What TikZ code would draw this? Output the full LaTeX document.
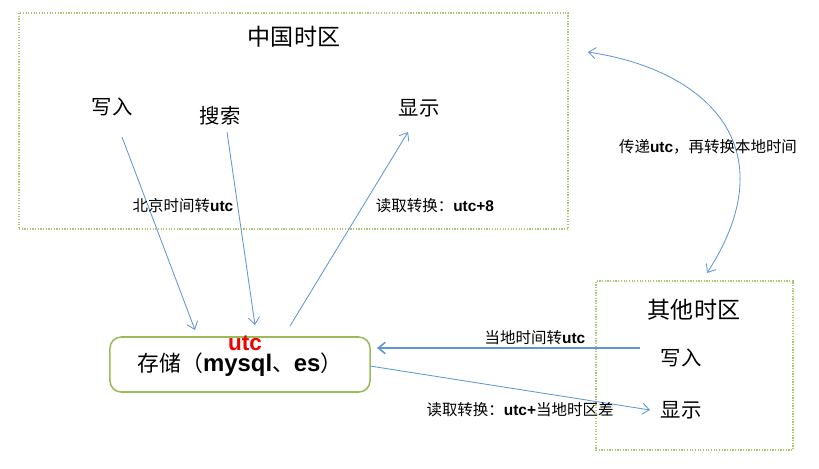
\documentclass[tikz,border=0pt]{standalone}
\usepackage{fontspec}
\setmainfont{Noto Sans CJK SC}
\newfontfamily\latinsans{Liberation Sans}
\usetikzlibrary{arrows.meta}
\newcommand{\en}[1]{{\latinsans\bfseries #1}}
\definecolor{linkblue}{RGB}{96,150,210}
\definecolor{zonegreen}{RGB}{155,187,89}
\definecolor{utcred}{RGB}{240,0,0}

\begin{document}
\begin{tikzpicture}[x=0.025cm,y=-0.025cm,>={Straight Barb[length=5pt,width=8pt]},
    zone/.style={draw=zonegreen!85,densely dotted,line width=0.9pt},
    title/.style={font=\fontsize{16.4}{18}\selectfont},
    op/.style={font=\fontsize{14.5}{16}\selectfont},
    note/.style={font=\fontsize{11}{13}\selectfont},
    store/.style={draw=zonegreen,line width=1.1pt,rounded corners=8pt,
        minimum width=6.5cm,minimum height=1.375cm,
        font=\fontsize{15.5}{17}\selectfont},
    flow/.style={draw=linkblue,line width=0.6pt}]
    \useasboundingbox (0,0) rectangle (819,468);
    % time zones
    \node[zone,minimum width=13.725cm,minimum height=5.4cm] (china) at (293.5,121) {};
    \node[zone,minimum width=4.925cm,minimum height=4.225cm] (other) at (694.5,365.5) {};
    \node[title] (t1) at (294,37) {中国时区};
    \node[title] (t2) at (694,310) {其他时区};
    % operations
    \node[op] (w1) at (112,107) {写入};
    \node[op] (s1) at (220,116) {搜索};
    \node[op] (d1) at (419,108) {显示};
    \node[op] (w2) at (681,358) {写入};
    \node[op] (d2) at (681,410) {显示};
    % storage
    \node[store] (db) at (240,364.5) {\raisebox{-4.5pt}{存储（{\fontsize{17}{19}\selectfont\en{mysql}}、{\fontsize{17}{19}\selectfont\en{es}}）}};
    \node[text=utcred,inner sep=1pt,font=\fontsize{16}{18}\selectfont] (u) at (245,343) {\en{utc}};
    % connectors
    \draw[flow,->] ([shift={(10,30)}]w1.center) -- ([shift={(-45,-34.5)}]db.center);
    \draw[flow,->] ([shift={(7,16)}]s1.center) -- ([shift={(15,-39.5)}]db.center);
    \draw[flow,->] ([shift={(50,-38.5)}]db.center) -- ([shift={(-11,24)}]d1.center);
    \draw[flow,->,line width=1.1pt] ([shift={(-41,-10)}]w2.center) -- ([shift={(137,-16.5)}]db.center);
    \draw[flow,->] ([shift={(130,1.5)}]db.center) -- ([shift={(-31,0)}]d2.center);
    \draw[flow,<->] ([shift={(294.5,-69)}]china.center) .. controls (708,70) and (788,148) .. ([shift={(12.5,-92.5)}]other.center);
    % labels
    \node[note] (n1) at (183,206) {北京时间转\en{utc}};
    \node[note] (n2) at (435,206) {读取转换：\en{utc+8}};
    \node[note] (n3) at (708,147) {传递\en{utc}，再转换本地时间};
    \node[note] (n4) at (535,338) {当地时间转\en{utc}};
    \node[note] (n5) at (520,410) {读取转换：\en{utc+}当地时区差};
\end{tikzpicture}
\end{document}
